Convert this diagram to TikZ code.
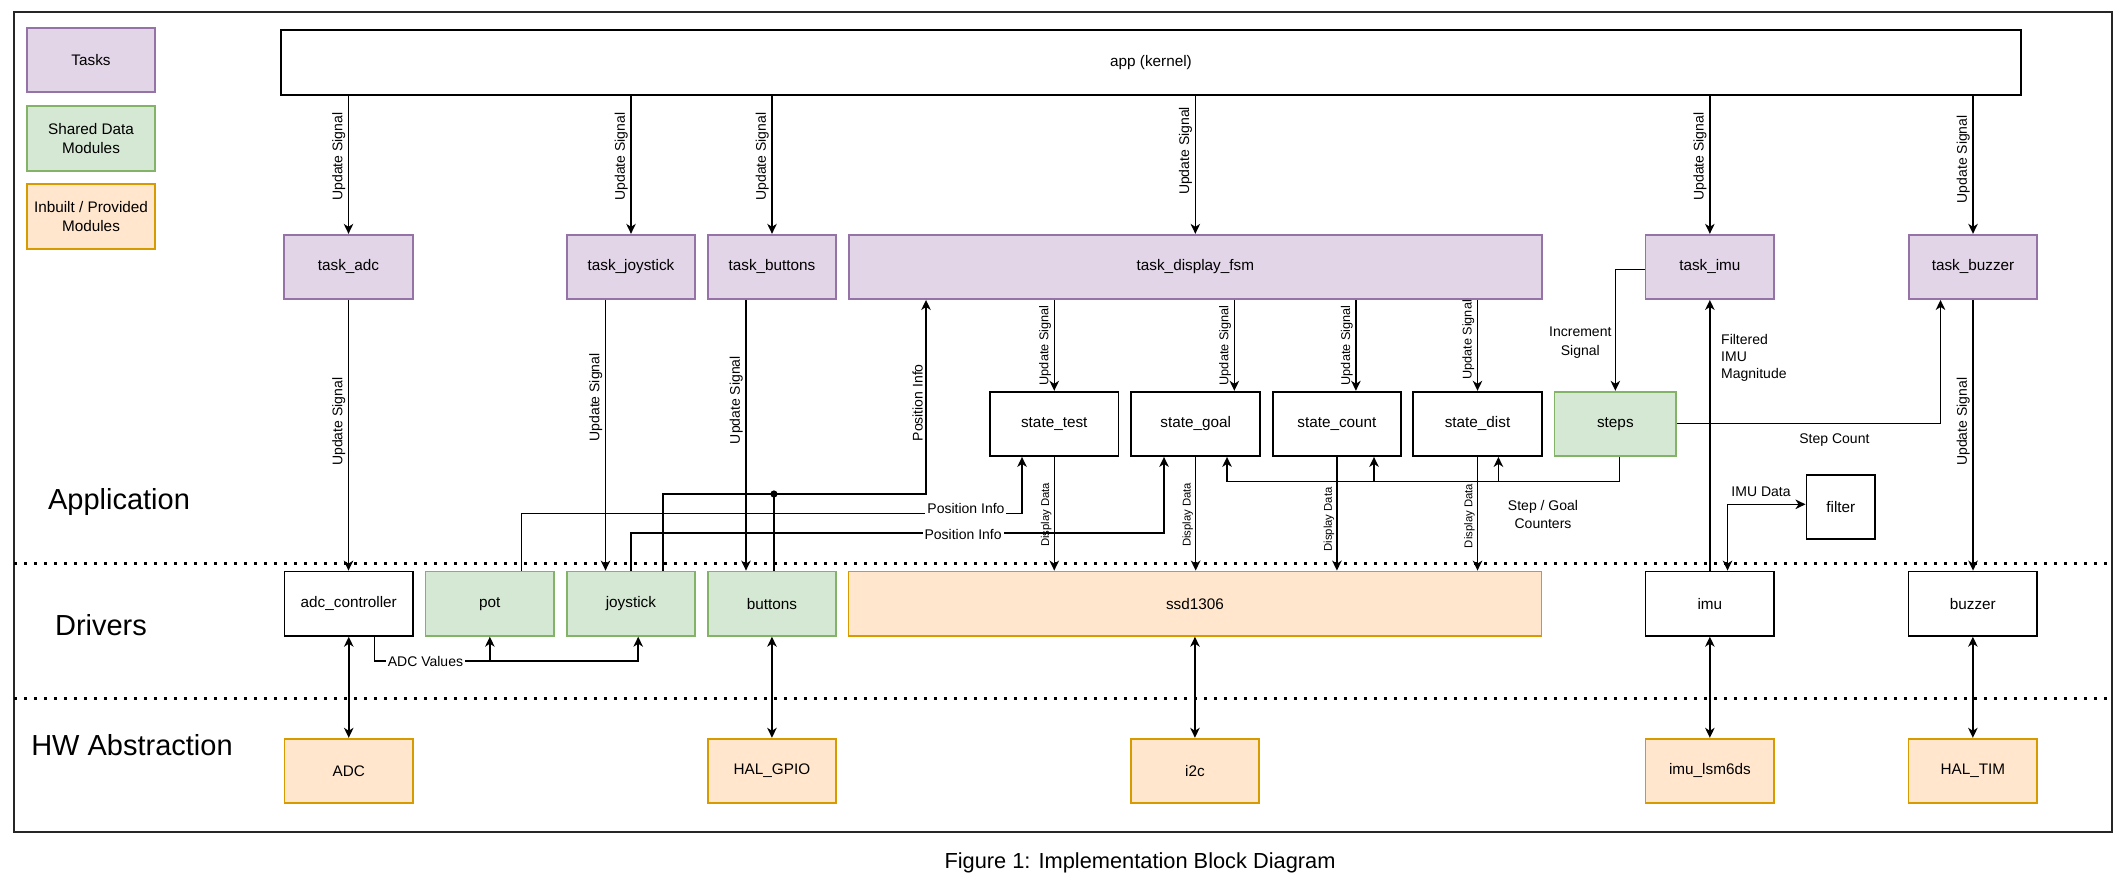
\documentclass[tikz,border=0pt]{standalone}
\usepackage{fontspec}
\setmainfont{Liberation Sans}
\usetikzlibrary{arrows.meta}
\definecolor{taskfill}{HTML}{E1D5E7}
\definecolor{taskdraw}{HTML}{9673A6}
\definecolor{sharedfill}{HTML}{D5E8D4}
\definecolor{shareddraw}{HTML}{82B366}
\definecolor{inbfill}{HTML}{FFE6CC}
\definecolor{inbdraw}{HTML}{D79B00}
\begin{document}
\begin{tikzpicture}[x=1pt,y=-1pt,
  every node/.style={inner sep=0pt, font=\fontsize{15.3pt}{19pt}\selectfont},
  box/.style={draw=black, line width=1.8pt, fill=white, minimum width=128.6pt, minimum height=64.3pt, align=center},
  taskbox/.style={box, draw=taskdraw, fill=taskfill},
  sharedbox/.style={box, draw=shareddraw, fill=sharedfill},
  inbbox/.style={box, draw=inbdraw, fill=inbfill},
  conn/.style={line width=1.5pt, draw=black},
  arr/.style={conn, -{Stealth[length=10pt,width=9.5pt,inset=3pt]}},
  darr/.style={conn, {Stealth[length=10pt,width=9.5pt,inset=3pt]}-{Stealth[length=10pt,width=9.5pt,inset=3pt]}},
  vlab/.style={rotate=90, anchor=south, inner sep=2.5pt, font=\fontsize{14pt}{16pt}\selectfont},
  vlabs/.style={rotate=90, anchor=south, inner sep=2.5pt, font=\fontsize{12.7pt}{15pt}\selectfont},
  smalllab/.style={rotate=90, anchor=south, inner sep=2pt, font=\fontsize{11.3pt}{13pt}\selectfont},
  hlab/.style={fill=white, inner sep=2pt, font=\fontsize{14pt}{17.6pt}\selectfont},
  plainlab/.style={inner sep=0pt, align=center, font=\fontsize{14pt}{17.6pt}\selectfont},
  layer/.style={font=\fontsize{29pt}{34pt}\selectfont},
  dotline/.style={line width=2.6pt, dash pattern=on 2.6pt off 7.4pt},
]
\useasboundingbox (0,0) rectangle (2128,886);

% frame
\node[draw=black!85, line width=1.8pt, minimum width=2098pt, minimum height=820pt] (frame) at (1063,422.3) {};

% layer separators
\coordinate (d1a) at (14,563.3);
\coordinate (d1b) at (2110,563.3);
\coordinate (d2a) at (14,698.3);
\coordinate (d2b) at (2110,698.3);
\draw[dotline] (d1a) -- (d1b);
\draw[dotline] (d2a) -- (d2b);

% legend
\node[taskbox] (lgt) at (91,60) {Tasks};
\node[sharedbox] (lgs) at (91,138.5) {Shared Data\\Modules};
\node[inbbox] (lgi) at (91,216.5) {Inbuilt / Provided\\Modules};

% layer names
\node[layer] (lapp) at (119,502) {Application};
\node[layer] (ldrv) at (101,625) {Drivers};
\node[layer] (lhw) at (132,745) {HW Abstraction};

% kernel
\node[box, minimum width=1740pt, minimum height=64.7pt] (app) at (1151,62.5) {app (kernel)};

% tasks
\node[taskbox] (tadc) at (348.5,266.9) {task\_adc};
\node[taskbox] (tjoy) at (631,266.9) {task\_joystick};
\node[taskbox] (tbtn) at (772,266.9) {task\_buttons};
\node[taskbox, minimum width=693.3pt] (fsm) at (1195.35,266.9) {task\_display\_fsm};
\node[taskbox] (timu) at (1709.85,266.9) {task\_imu};
\node[taskbox] (tbuz) at (1973,266.9) {task\_buzzer};

% states
\node[box] (stest) at (1054.25,423.85) {state\_test};
\node[box] (sgoal) at (1195.65,423.85) {state\_goal};
\node[box] (scount) at (1336.9,423.85) {state\_count};
\node[box] (sdist) at (1477.5,423.85) {state\_dist};
\node[sharedbox, minimum width=121.7pt] (steps) at (1615.35,423.85) {steps};
\node[box, minimum width=68.9pt] (filter) at (1840.85,507.15) {filter};

% drivers
\node[box] (adcc) at (348.75,603.65) {adc\_controller};
\node[sharedbox] (pot) at (489.85,603.65) {pot};
\node[sharedbox] (joy) at (630.9,603.65) {joystick};
\node[sharedbox] (btn) at (771.95,603.65) {buttons};
\node[inbbox, minimum width=693.1pt] (ssd) at (1194.95,603.65) {ssd1306};
\node[box] (imu) at (1709.85,603.65) {imu};
\node[box] (buz) at (1972.85,603.65) {buzzer};

% hardware
\node[inbbox] (adc) at (348.8,770.85) {ADC};
\node[inbbox] (gpio) at (771.95,770.85) {HAL\_GPIO};
\node[inbbox] (i2c) at (1195,770.85) {i2c};
\node[inbbox] (lsm) at (1709.85,770.85) {imu\_lsm6ds};
\node[inbbox] (tim) at (1972.85,770.85) {HAL\_TIM};

% caption
\node[font=\fontsize{21.8pt}{26pt}\selectfont] (cap) at (1140,863) {Figure 1: Implementation Block Diagram};

% kernel -> tasks
\draw[arr] (app.south -| tadc) -- node[vlab,pos=0.44]{Update Signal} (tadc.north);
\draw[arr] (app.south -| tjoy) -- node[vlab,pos=0.44]{Update Signal} (tjoy.north);
\draw[arr] (app.south -| tbtn) -- node[vlab,pos=0.44]{Update Signal} (tbtn.north);
\draw[arr] (app.south -| fsm) -- node[vlab,pos=0.40]{Update Signal} (fsm.north);
\draw[arr] (app.south -| timu) -- node[vlab,pos=0.44]{Update Signal} (timu.north);
\draw[arr] (app.south -| tbuz) -- node[vlab,pos=0.46]{Update Signal} (tbuz.north);

% tasks -> drivers
\draw[arr] (tadc.south) -- node[vlab,pos=0.45]{Update Signal} (tadc.south |- adcc.north);
\coordinate (tj) at ([xshift=-25.5pt]tjoy.south);
\draw[arr] (tj) -- node[vlab,pos=0.36]{Update Signal} (tj |- joy.north);
\coordinate (tb) at ([xshift=-26pt]tbtn.south);
\draw[arr] (tb) -- node[vlab,pos=0.37]{Update Signal} (tb |- btn.north);
\draw[arr] (tbuz.south) -- node[vlab,pos=0.45]{Update Signal} (tbuz.south |- buz.north);

% fsm -> states
\draw[arr] (fsm.south -| stest) -- node[vlabs,pos=0.5]{Update Signal} (stest.north);
\coordinate (fg) at ([xshift=38.7pt]sgoal.north);
\draw[arr] (fg |- fsm.south) -- node[vlabs,pos=0.5]{Update Signal} (fg);
\coordinate (fc) at ([xshift=19pt]scount.north);
\draw[arr] (fc |- fsm.south) -- node[vlabs,pos=0.5]{Update Signal} (fc);
\draw[arr] (fsm.south -| sdist) -- node[vlabs,pos=0.44]{Update Signal} (sdist.north);

% states -> display driver
\draw[arr] (stest.south) -- node[smalllab,pos=0.51]{Display Data} (stest.south |- ssd.north);
\draw[arr] (sgoal.south) -- node[smalllab,pos=0.51]{Display Data} (sgoal.south |- ssd.north);
\draw[arr] (scount.south) -- node[smalllab,pos=0.55]{Display Data} (scount.south |- ssd.north);
\draw[arr] (sdist.south) -- node[smalllab,pos=0.52]{Display Data} (sdist.south |- ssd.north);

% position info to fsm
\coordinate (pj) at ([xshift=32pt]joy.north);
\coordinate (pf) at (926,494);
\draw[arr] (pj) |- (pf) -- node[vlab,pos=0.47]{Position Info} (pf |- fsm.south);
\coordinate (pb) at ([xshift=2pt]btn.north);
\draw[conn] (pb) -- (pb |- pf);
\fill (pb |- pf) circle (3.6pt);

% pot -> state_test
\coordinate (pp) at ([xshift=31.7pt]pot.north);
\coordinate (pt) at (1022,513.7);
\draw[arr] (pp) |- node[hlab,pos=0.944,yshift=5pt]{Position Info} (pt) -- (pt |- stest.south);

% joystick -> state_goal
\coordinate (pg) at (1164,533);
\draw[arr] (joy.north) |- node[hlab,pos=0.8116,yshift=-1pt]{Position Info} (pg) -- (pg |- sgoal.south);

% step / goal counters
\coordinate (sc) at ([xshift=4pt]steps.south);
\coordinate (c1) at (1227,481.7);
\coordinate (c2) at (1374,481.7);
\coordinate (c3) at (1498.4,481.7);
\draw[arr] (sc) |- (c1) -- (c1 |- sgoal.south);
\draw[arr] (c2) -- (c2 |- scount.south);
\draw[arr] (c3) -- (c3 |- sdist.south);
\node[plainlab] (sgc) at (1543,514.5) {Step / Goal\\Counters};

% task_imu -> steps
\coordinate (ti) at ([yshift=-2.4pt]timu.west);
\draw[arr] (ti) -| (steps.north);
\node[plainlab, font=\fontsize{14pt}{18.4pt}\selectfont] (inc) at (1580.3,342.5) {Increment\\Signal};

% imu -> task_imu
\draw[arr] (imu.north) -- (timu.south);
\node[plainlab, anchor=west, align=left, font=\fontsize{14pt}{16.7pt}\selectfont] (fim) at (1721,357.7) {Filtered\\IMU\\Magnitude};

% imu <-> filter
\coordinate (fi) at ([yshift=2.85pt]filter.west);
\coordinate (id) at ([xshift=17.65pt]imu.north);
\draw[darr] (fi) -| (id);
\node[plainlab] (imd) at (1761,491.7) {IMU Data};

% steps -> task_buzzer
\coordinate (sb) at ([xshift=-32.5pt]tbuz.south);
\draw[arr] ([yshift=0.5pt]steps.east) -| (sb);
\node[plainlab] (stc) at (1834.4,440) {Step Count};

% ADC values
\coordinate (av) at ([xshift=25.5pt]adcc.south);
\coordinate (aj) at ([xshift=7.3pt]joy.south);
\coordinate (a1) at (638.2,661);
\coordinate (a2) at (489.85,661);
\draw[arr] (av) |- node[hlab,pos=0.597]{ADC Values} (a1) -- (aj);
\draw[arr] (a2) -- (pot.south);

% driver <-> hardware
\draw[darr] (adcc.south) -- (adcc.south |- adc.north);
\draw[darr] (btn.south) -- (btn.south |- gpio.north);
\draw[darr] (ssd.south) -- (ssd.south |- i2c.north);
\draw[darr] (imu.south) -- (lsm.north);
\draw[darr] (buz.south) -- (tim.north);
\end{tikzpicture}
\end{document}
